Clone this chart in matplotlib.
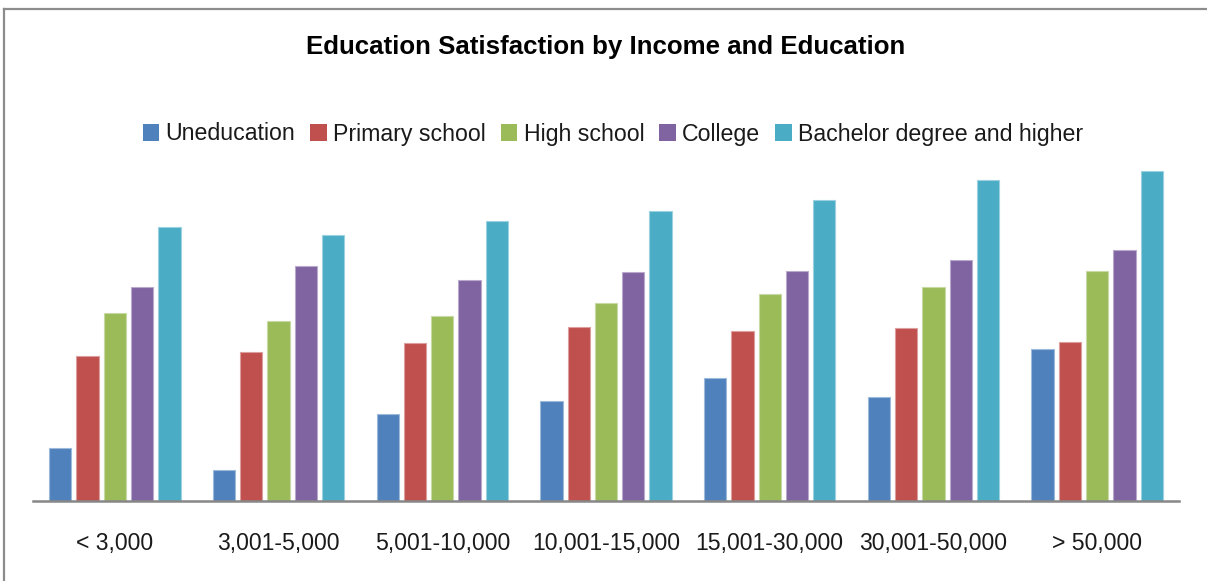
import numpy as np
import matplotlib
matplotlib.use("Agg")
import matplotlib.pyplot as plt
from matplotlib import font_manager
from matplotlib.lines import Line2D
from matplotlib.colors import to_rgb

# Income brackets and education groups
income_groups = ["< 3,000", "3,001-5,000", "5,001-10,000", "10,001-15,000",
                 "15,001-30,000", "30,001-50,000", "> 50,000"]
education_levels = ["Uneducation", "Primary school", "High school", "College",
                    "Bachelor degree and higher"]

# Satisfaction level for each education group, per income bracket
uneducation = [53.3, 31.3, 87.0, 100.0, 123.0, 104.0, 152.3]
primary_school = [145.0, 149.0, 157.7, 174.3, 169.7, 173.3, 159.0]
high_school = [188.0, 180.0, 185.0, 197.7, 207.3, 214.0, 230.0]
college = [214.0, 235.0, 221.0, 228.7, 230.0, 241.3, 251.3]
bachelor_plus = [274.3, 266.0, 279.7, 290.3, 301.0, 321.0, 330.3]

series = [uneducation, primary_school, high_school, college, bachelor_plus]
colors = ["#4F81BD", "#C0504D", "#9BBB59", "#8064A2", "#4BACC6"]

available = {f.name for f in font_manager.fontManager.ttflist}
base_font = "Liberation Sans Narrow" if "Liberation Sans Narrow" in available else "Liberation Sans"
plt.rcParams["font.family"] = [base_font, "DejaVu Sans"]

W, H = 1207, 581
fig = plt.figure(figsize=(W / 100, H / 100), dpi=100)
fig.patch.set_facecolor("white")

ax = fig.add_axes([33 / W, 1 - 501 / H, 1146 / W, (501 - 160) / H])

x = np.arange(len(income_groups))
slot = 1 / 6
bar_w = 0.136
for k, (vals, c) in enumerate(zip(series, colors)):
    offs = (k - 2) * slot
    edge = tuple(0.55 * np.array(to_rgb(c)) + 0.45)
    ax.bar(x + offs, vals, width=bar_w, color=c, edgecolor=edge,
           linewidth=0.8, label=education_levels[k], zorder=2)

ax.set_xlim(-0.5, len(income_groups) - 0.5)
ax.set_ylim(0, 341)
ax.set_yticks([])
ax.set_xticks(x)
ax.set_xticklabels(income_groups, fontsize=16.6, color="#1a1a1a")
ax.tick_params(axis="x", length=0, pad=22)
for s in ["top", "right", "left"]:
    ax.spines[s].set_visible(False)
ax.spines["bottom"].set_color("#878787")
ax.spines["bottom"].set_linewidth(1.8)
ax.spines["bottom"].set_zorder(3)

fig.text(606 / W, 1 - 47 / H, "Education Satisfaction by Income and Education",
         ha="center", va="center", fontsize=18.6, fontweight="bold", color="black")

leg = fig.legend(loc="center", bbox_to_anchor=(613 / W, 1 - 134 / H), ncol=5,
                 frameon=False, fontsize=16.7, handlelength=0.7, handleheight=0.7,
                 handletextpad=0.28, columnspacing=0.65)
for t in leg.get_texts():
    t.set_color("#1a1a1a")
for h in leg.legend_handles:
    h.set_edgecolor("none")

# Frame edges along the left and top
fig.add_artist(Line2D([4 / W, 4 / W], [0, 1 - 9 / H], transform=fig.transFigure,
                      color="#8c8c8c", linewidth=1.6))
fig.add_artist(Line2D([4 / W, 1], [1 - 9 / H, 1 - 9 / H], transform=fig.transFigure,
                      color="#8c8c8c", linewidth=1.6))

fig.savefig("out.png", dpi=100, facecolor="white")
